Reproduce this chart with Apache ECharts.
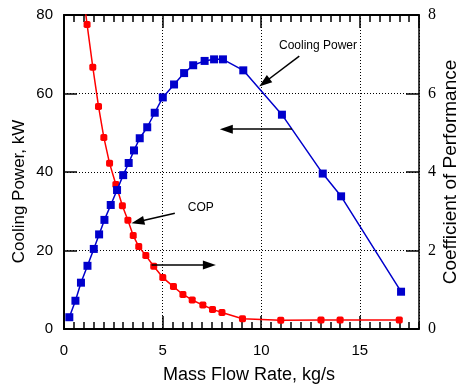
<!DOCTYPE html>
<html><head><meta charset="utf-8">
<script src="https://cdn.jsdelivr.net/npm/echarts@6/dist/echarts.min.js"></script>
<style>html,body{margin:0;padding:0;background:#fff}#c{width:462px;height:387px}</style>
</head><body><div id="c"></div>
<script>
// ---- Data ----
const coolingFlow  = [0.27,0.58,0.86,1.19,1.51,1.78,2.05,2.37,2.69,3.00,3.28,3.55,3.84,4.22,4.60,5.01,5.58,6.09,6.55,7.13,7.61,8.06,9.09,11.05,13.12,14.05,17.09];
const coolingPower = [3.0,7.2,11.8,16.1,20.4,24.1,27.8,31.6,35.4,39.2,42.3,45.5,48.6,51.4,55.1,59.0,62.3,65.2,67.2,68.3,68.7,68.7,65.9,54.6,39.6,33.8,9.5];
const copFlow      = [0.88,1.17,1.46,1.75,2.02,2.31,2.63,2.96,3.24,3.51,3.79,4.15,4.55,5.01,5.55,6.03,6.50,7.04,7.53,8.01,9.05,10.99,13.03,14.00,17.00];
const copValues    = [8.9,7.76,6.67,5.67,4.88,4.22,3.68,3.14,2.77,2.38,2.10,1.87,1.60,1.31,1.08,0.88,0.74,0.61,0.50,0.42,0.26,0.22,0.23,0.23,0.23];
const seriesNames  = ['Cooling Power','COP'];
const xAxisName = 'Mass Flow Rate, kg/s';
const yLeftName = 'Cooling Power, kW';
const yRightName = 'Coefficient of Performance';

// ---- Annotations (data coordinates: flow rate, cooling power) ----
const arrowFrom = [[11.56,50.9],[11.93,69.5],[5.62,29.5],[4.44,16.3]];
const arrowTo   = [[8.23,50.9],[10.16,62.8],[3.74,27.3],[7.37,16.3]];
const noteText  = ['Cooling Power','COP'];
const noteAt    = [[12.88,72.3],[6.94,31.0]];

const SANS = 'Liberation Sans, Arial, sans-serif';
const SERIF = 'Liberation Serif, Times New Roman, serif';
const BLUE = '#0000cc', RED = '#ff0000';

const chart = echarts.init(document.getElementById('c'), null, {renderer:'canvas'});
const mainX = (pos, labels) => ({
  type:'value', position:pos, min:0, max:18, interval:5, gridIndex:0,
  axisLine:{show:true, onZero:false, lineStyle:{color:'#000', width:2}},
  axisTick:{show:true, inside:true, length:13, lineStyle:{color:'#000', width:1.5}},
  axisLabel:{show:labels, margin:14, color:'#000', fontSize:15, fontFamily:SANS, showMaxLabel:false},
  splitLine:{show:labels, lineStyle:{color:'#000', width:1, type:[1,2]}},
  name: labels ? xAxisName : '', nameLocation:'middle', nameGap:37, nameMoveOverlap:false,
  nameTextStyle:{color:'#000', fontSize:18, fontFamily:SANS, padding:[0,0,0,15]}
});
const minorX = (pos) => ({
  type:'value', position:pos, min:0, max:18, interval:0.5, gridIndex:0,
  axisLine:{show:false, onZero:false},
  axisTick:{show:true, inside:true, length:7, lineStyle:{color:'#000', width:1.5}},
  axisLabel:{show:false}, splitLine:{show:false}
});

chart.setOption({
  animation:false,
  backgroundColor:'#fff',
  grid:{left:64, right:43, top:15, bottom:58, containLabel:false, outerBoundsMode:'none'},
  xAxis:[mainX('bottom', true), minorX('bottom'), mainX('top', false), minorX('top')],
  yAxis:[
    {type:'value', position:'left', min:0, max:80, interval:20,
     axisLine:{show:true, onZero:false, lineStyle:{color:'#000', width:2}},
     axisTick:{show:true, inside:true, length:13, lineStyle:{color:'#000', width:1.5}},
     axisLabel:{margin:11, color:'#000', fontSize:15, fontFamily:SANS},
     splitLine:{show:true, lineStyle:{color:'#000', width:1, type:[1,2]}}},
    {type:'value', position:'right', min:0, max:8, interval:2,
     axisLine:{show:true, onZero:false, lineStyle:{color:'#000', width:1.5}},
     axisTick:{show:true, inside:true, length:13, lineStyle:{color:'#000', width:1.5}},
     axisLabel:{margin:9, color:'#000', fontSize:16, fontFamily:SERIF},
     splitLine:{show:false},
     name:yRightName, nameLocation:'middle', nameGap:22, nameMoveOverlap:false,
     nameTextStyle:{color:'#000', fontSize:19, fontFamily:SANS}}
  ],
  graphic:[{type:'text', x:19, y:191.5, rotation:Math.PI/2, silent:true,
    style:{text:yLeftName, align:'center', verticalAlign:'middle', fill:'#000', fontSize:17, fontFamily:SANS}}],
  series:[
    {name:seriesNames[0], type:'line', xAxisIndex:0, yAxisIndex:0,
     data: coolingFlow.map((x,i)=>[x, coolingPower[i]]),
     symbol:'rect', symbolSize:8, showAllSymbol:true,
     lineStyle:{color:BLUE, width:1.5}, itemStyle:{color:BLUE},
     emphasis:{disabled:true}, silent:true, z:3,
     markLine:{silent:true, animation:false, symbol:['none','triangle'], symbolSize:[9,13],
       lineStyle:{color:'#000', width:1.5, type:'solid'}, label:{show:false}, emphasis:{disabled:true},
       data: arrowFrom.map((f,i)=>[{coord:f},{coord:arrowTo[i]}])},
     markPoint:{silent:true, animation:false, symbol:'rect', symbolSize:0,
       label:{show:true, position:'inside', formatter:'{b}', color:'#000', fontSize:12, fontFamily:SANS},
       data: noteText.map((t,i)=>({name:t, coord:noteAt[i]}))}
    },
    {name:seriesNames[1], type:'line', xAxisIndex:0, yAxisIndex:1,
     data: copFlow.map((x,i)=>[x, copValues[i]]),
     symbol:'roundRect', symbolSize:7, showAllSymbol:true, clip:true,
     lineStyle:{color:RED, width:1.5}, itemStyle:{color:RED},
     emphasis:{disabled:true}, silent:true, z:2}
  ]
});
</script></body></html>
